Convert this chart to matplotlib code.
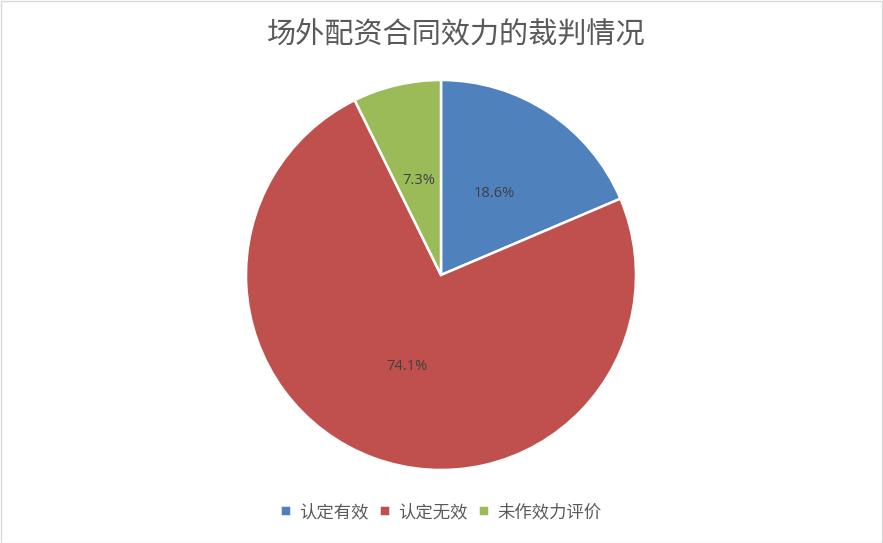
import matplotlib
matplotlib.use("Agg")
import matplotlib.pyplot as plt
from matplotlib.patches import Rectangle

plt.rcParams['font.family'] = ['Noto Sans CJK SC', 'DejaVu Sans']

title = "场外配资合同效力的裁判情况"
categories = ["认定有效", "认定无效", "未作效力评价"]
values = [18.6, 74.1, 7.3]
colors = ["#4F81BD", "#C0504D", "#9BBB59"]

W, H = 883, 543
fig = plt.figure(figsize=(W / 100, H / 100), dpi=100)
fig.patch.set_facecolor("white")

cx, cy, r = 441, 275, 195
ax = fig.add_axes([(cx - r) / W, (H - cy - r) / H, 2 * r / W, 2 * r / H])
wedges, texts, autotexts = ax.pie(
    values, colors=colors, startangle=90, counterclock=False,
    autopct=lambda p: f"{p:.1f}%", pctdistance=0.5,
    wedgeprops=dict(edgecolor="white", linewidth=1.8),
    textprops=dict(color="#404040", fontsize=10.5, family=['Open Sans', 'DejaVu Sans']),
)
ax.set_xlim(-1, 1)
ax.set_ylim(-1, 1)
ax.set_aspect("auto")
ax.axis("off")

fig.text(cx / W + 15 / W, 1 - 35 / H, title, ha="center", va="center",
         fontsize=21, color="#595959", fontweight="light")

leg = fig.legend(wedges, categories, loc="center", bbox_to_anchor=(441 / W, 1 - 512 / H),
                 ncol=3, frameon=False, fontsize=12.5, handlelength=0.6, handleheight=0.6,
                 handletextpad=0.5, columnspacing=0.6)
for t in leg.get_texts():
    t.set_color("#595959")

fig.patches.append(Rectangle((0.5 / W, 0.5 / H), 1 - 1.5 / W, 1 - 1.5 / H,
                             transform=fig.transFigure, fill=False,
                             edgecolor="#D9D9D9", linewidth=1))

fig.savefig("out.png", dpi=100)
